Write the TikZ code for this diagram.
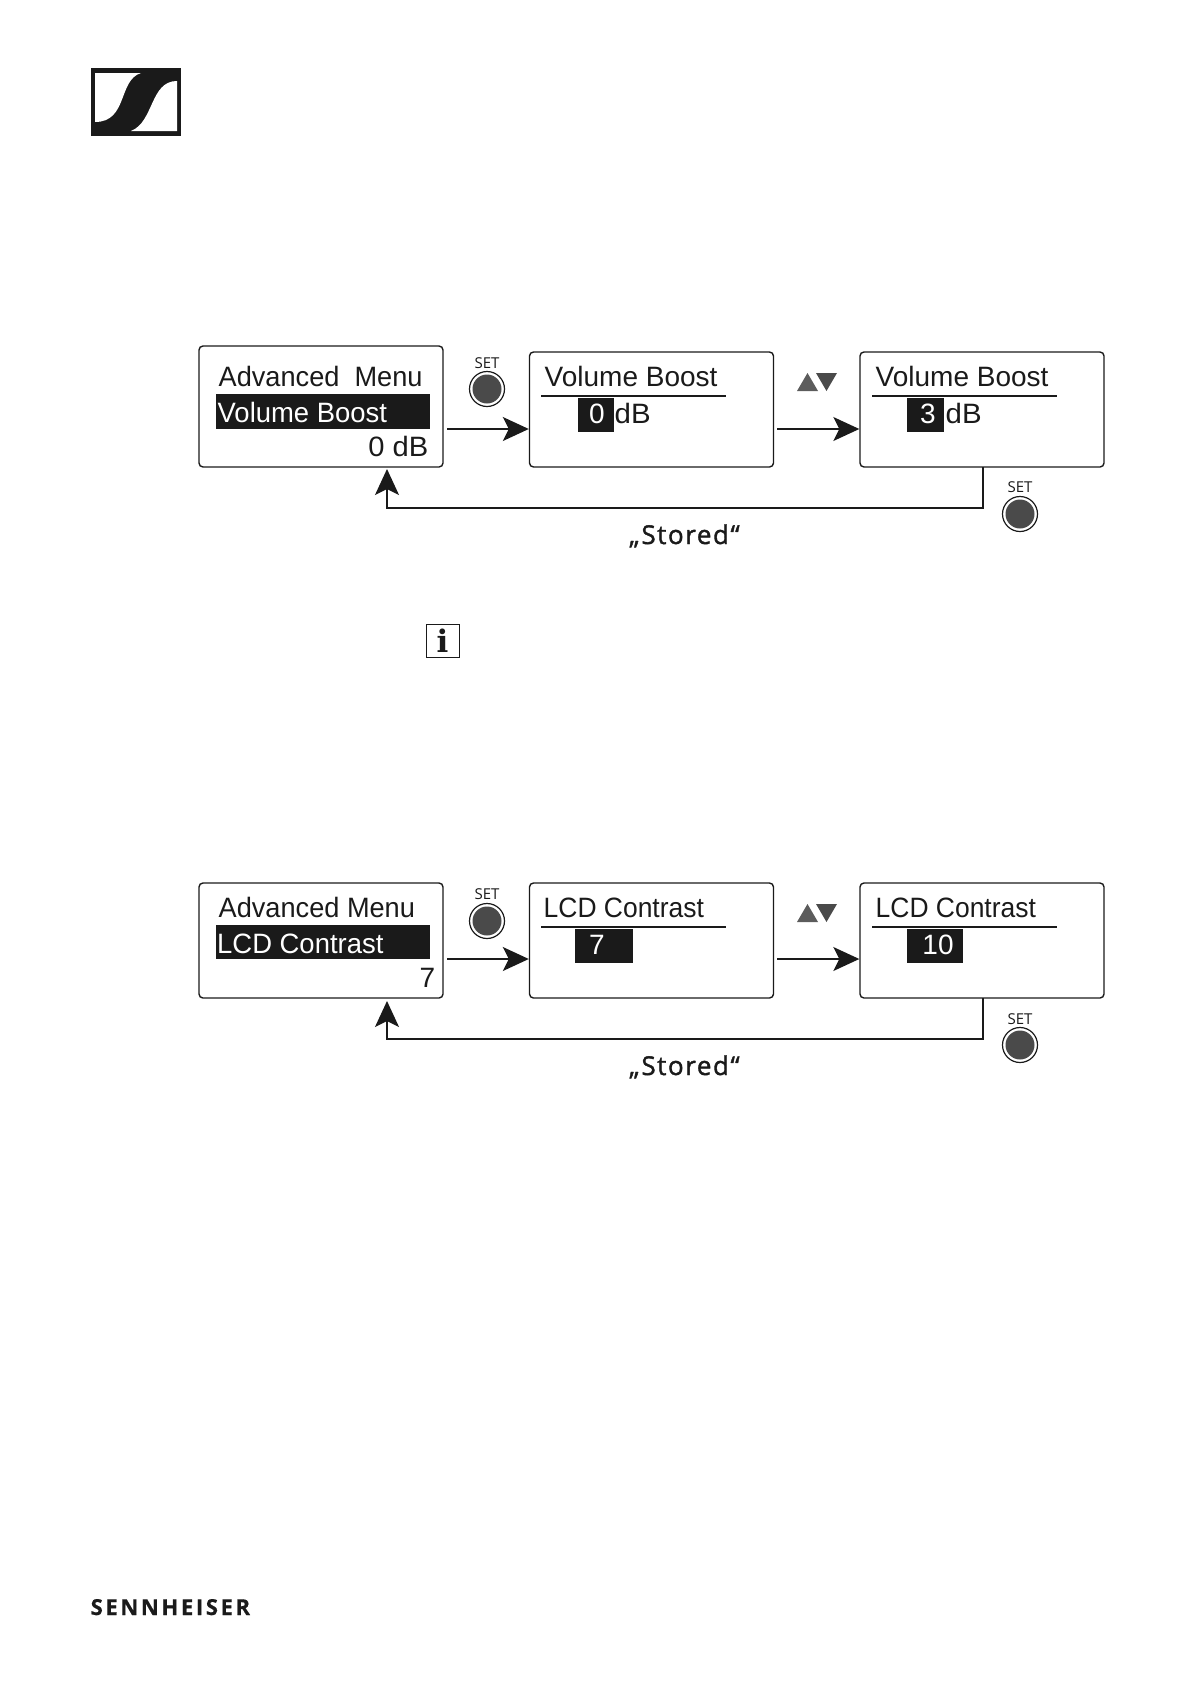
\documentclass[tikz,border=0pt]{standalone}
\usepackage{fontspec}
\setmainfont{Liberation Sans}
\newfontfamily\labelfont{Open Sans}
\newfontfamily\storedfont[FakeBold=1.5,LetterSpace=6]{Open Sans}
\newfontfamily\brandfont[LetterSpace=12,FakeBold=0.5]{Open Sans}
\newfontfamily\infofont{DejaVu Serif}
\usetikzlibrary{arrows.meta}

\definecolor{ink}{HTML}{1A1A1A}
\definecolor{btn}{HTML}{4A4A4A}

\begin{document}
\begin{tikzpicture}[x=1pt, y=-1pt, line width=1.4pt, draw=ink, text=ink]

	\tikzset{
		screen/.style={draw, rounded corners=4pt, minimum width=244pt, minimum height=#1, inner sep=0pt},
		lcd/.style={anchor=base west, inner sep=0pt, font=\fontsize{28}{30}\selectfont},
		lcdnarrow/.style={lcd, font=\fontsize{28}{30}\selectfont\addfontfeature{FakeStretch=#1}},
		lcdneg/.style={lcd, text=white},
		bar/.style={fill=ink, inner sep=0pt},
		flow/.style={line width=1.5pt, -{Stealth[length=26pt, width=24pt, inset=6pt]}},
		setlabel/.style={inner sep=0pt, font=\labelfont\fontsize{15}{15}\selectfont},
		setbtn/.style={circle, draw, fill=white, line width=1.2pt, minimum size=35pt, inner sep=0pt,
			path picture={\fill[btn] (path picture bounding box.center) circle (14.5pt);}},
		stored/.style={anchor=base, inner sep=0pt, font=\storedfont\fontsize{26}{26}\selectfont}
	}

	\useasboundingbox (0,0) rectangle (1190,1684);

	% --- LOGO ---
	\fill[ink] (91,68) rectangle (181,136);
	\fill[white] (95,73) -- (141,73) .. controls (118,80) and (128,122) .. (95,122) -- cycle;
	\fill[white] (177,81) -- (177,131) -- (131,131) .. controls (154,122) and (150,81) .. (177,81) -- cycle;

	% --- VOLUME BOOST ---
	\node[screen=121pt] (advA) at (321,406.5) {};
	\node[screen=115pt] (boostA) at (651.5,409.5) {};
	\node[screen=115pt] (boostB) at (982,409.5) {};

	\node[lcdnarrow=0.97] (advAtitle) at (218,386) {Advanced\ \ Menu};
	\node[bar, minimum width=214pt, minimum height=35pt] (advAbar) at (323,411.5) {};
	\node[lcdneg, lcdnarrow=0.98, text=white] (advAitem) at (217,422) {Volume Boost};
	\node[lcdnarrow=1.04, anchor=base east] (advAval) at (429,456) {0 dB};

	\node[lcd] (boostAtitle) at (544,386) {Volume Boost};
	\draw (541,396) -- (726,396);
	\node[bar, minimum width=36pt, minimum height=34pt] (boostAbar) at (596,415) {};
	\node[lcdneg, anchor=base] (boostAval) at (597,423) {0};
	\node[lcdnarrow=1.05] (boostAunit) at (614,423) {dB};

	\node[lcd] (boostBtitle) at (875,386) {Volume Boost};
	\draw (872,396) -- (1057,396);
	\node[bar, minimum width=37pt, minimum height=34pt] (boostBbar) at (925.5,415) {};
	\node[lcdneg, anchor=base] (boostBval) at (928,423) {3};
	\node[lcdnarrow=1.05] (boostBunit) at (945,423) {dB};

	\node[setlabel] (setA) at (487,363) {SET};
	\node[setbtn] (btnA) at (487,389) {};
	\node[setlabel] (setB) at (1020,487.5) {SET};
	\node[setbtn] (btnB) at (1020,514) {};

	\fill[btn!90] (797,391) -- (818,391) -- (807.5,373) -- cycle;
	\fill[btn] (816,373) -- (837,373) -- (826.5,391) -- cycle;

	\coordinate (arrA) at (447,429);
	\coordinate (arrB) at (777,429);
	\coordinate (backA) at (983,467);
	\coordinate (cornerA) at (983,508);
	\coordinate (backAend) at (387,469);
	\draw[flow] (arrA) -- (arrA -| boostA.west);
	\draw[flow] (arrB) -- (arrB -| boostB.west);
	\draw[flow] (backA) -- (cornerA) -| (backAend);

	\node[stored] (storedA) at (684.5,544) {„Stored“};

	% --- INFO ICON ---
	\node[draw, line width=1pt, minimum size=33pt, inner sep=0pt, font=\infofont\bfseries\fontsize{31}{31}\selectfont] (info) at (442.5,640.5) {i};

	% --- LCD CONTRAST ---
	\node[screen=115pt] (advC) at (321,940.5) {};
	\node[screen=115pt] (lcdA) at (651.5,940.5) {};
	\node[screen=115pt] (lcdB) at (982,940.5) {};

	\node[lcdnarrow=0.97] (advCtitle) at (218,917) {Advanced\ Menu};
	\node[bar, minimum width=214pt, minimum height=34pt] (advCbar) at (323,942) {};
	\node[lcdnarrow=0.98, text=white] (advCitem) at (216.5,953) {LCD Contrast};
	\node[lcdnarrow=1, anchor=base east] (advCval) at (436,987) {7};

	\node[lcdnarrow=0.945] (lcdAtitle) at (543,917) {LCD Contrast};
	\draw (541,927) -- (726,927);
	\node[bar, minimum width=58pt, minimum height=34pt] (lcdAbar) at (604,946) {};
	\node[lcdneg, anchor=base] (lcdAval) at (597,954) {7};

	\node[lcdnarrow=0.945] (lcdBtitle) at (875,917) {LCD Contrast};
	\draw (872,927) -- (1057,927);
	\node[bar, minimum width=56pt, minimum height=34pt] (lcdBbar) at (935,946) {};
	\node[lcdneg, anchor=base] (lcdBval) at (938,954) {10};

	\node[setlabel] (setC) at (487,894) {SET};
	\node[setbtn] (btnC) at (487,921) {};
	\node[setlabel] (setD) at (1020,1019) {SET};
	\node[setbtn] (btnD) at (1020,1045) {};

	\fill[btn!90] (797,922) -- (818,922) -- (807.5,904) -- cycle;
	\fill[btn] (816,904) -- (837,904) -- (826.5,922) -- cycle;

	\coordinate (arrC) at (447,959);
	\coordinate (arrD) at (777,959);
	\coordinate (backC) at (983,998);
	\coordinate (cornerC) at (983,1039);
	\coordinate (backCend) at (387,1001);
	\draw[flow] (arrC) -- (arrC -| lcdA.west);
	\draw[flow] (arrD) -- (arrD -| lcdB.west);
	\draw[flow] (backC) -- (cornerC) -| (backCend);

	\node[stored] (storedC) at (684.5,1075) {„Stored“};

	% --- BRAND ---
	\node[anchor=base west, inner sep=0pt, font=\brandfont\bfseries\fontsize{22}{22}\selectfont] (brand) at (90,1615) {SENNHEISER};

\end{tikzpicture}
\end{document}
